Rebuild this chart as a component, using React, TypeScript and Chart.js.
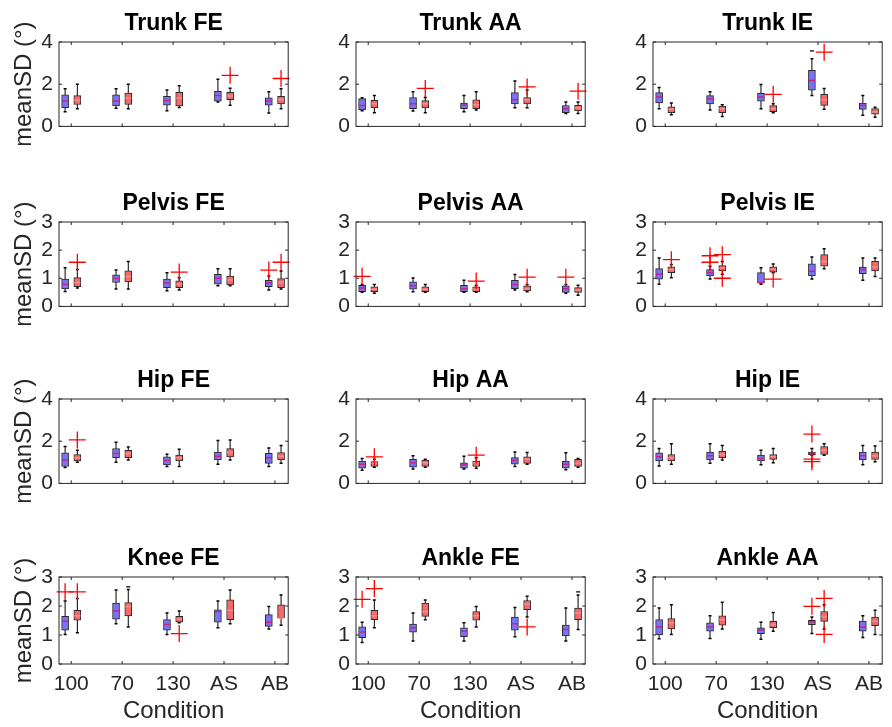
import React, { useEffect, useRef } from 'react';
import { Chart, registerables } from 'chart.js';
Chart.register(...registerables);

// Conditions (x categories)
const conditions = ['100', '70', '130', 'AS', 'AB'];

// Each stats row: [lower whisker, Q1, median, Q3, upper whisker], one per condition
// Outliers / marks: [conditionIndex, side (0 = blue, 1 = red), value]
const trunkFEBlue = [[0.69, 0.89, 1.2, 1.5, 1.78], [0.86, 0.97, 1.2, 1.5, 1.78], [0.74, 1.01, 1.23, 1.43, 1.73], [1.16, 1.2, 1.46, 1.66, 2.24], [0.63, 1.01, 1.2, 1.35, 1.64]];
const trunkFERed = [[0.84, 1.04, 1.24, 1.46, 2.0], [0.84, 1.04, 1.35, 1.58, 2.0], [0.89, 0.97, 1.35, 1.61, 1.93], [1.0, 1.27, 1.44, 1.61, 1.81], [0.84, 1.07, 1.27, 1.43, 1.78]];
const trunkFEOut = [[3, 1, 2.42], [4, 1, 2.27]];

const trunkAABlue = [[0.74, 0.78, 0.99, 1.32, 1.36], [0.73, 0.84, 1.07, 1.37, 1.64], [0.7, 0.84, 1.0, 1.11, 1.46], [0.88, 1.07, 1.26, 1.6, 2.15], [0.61, 0.65, 0.84, 0.99, 1.16]];
const trunkAARed = [[0.65, 0.88, 1.07, 1.23, 1.46], [0.65, 0.88, 1.07, 1.22, 1.37], [0.78, 0.84, 1.03, 1.26, 1.64], [0.88, 1.07, 1.26, 1.37, 1.72], [0.61, 0.73, 0.88, 1.0, 1.16]];
const trunkAAOut = [[1, 1, 1.8], [3, 1, 1.87], [4, 1, 1.67]];

const trunkIEBlue = [[0.84, 1.11, 1.39, 1.6, 1.84], [0.78, 1.07, 1.31, 1.46, 1.64], [0.84, 1.19, 1.39, 1.57, 1.98], [1.46, 1.72, 2.18, 2.66, 3.21], [0.53, 0.81, 0.99, 1.11, 1.46]];
const trunkIERed = [[0.55, 0.65, 0.81, 0.93, 1.11], [0.47, 0.65, 0.84, 0.96, 1.03], [0.65, 0.7, 0.84, 0.99, 1.07], [0.81, 1.0, 1.26, 1.52, 1.8], [0.43, 0.58, 0.68, 0.84, 0.91]];
const trunkIEOut = [[2, 1, 1.52], [3, 1, 3.52]];
const trunkIEMarks = [[3, 0, 3.58]];

const pelvisFEBlue = [[0.53, 0.62, 0.79, 0.97, 1.37], [0.62, 0.85, 0.99, 1.12, 1.29], [0.56, 0.67, 0.83, 0.97, 1.2], [0.73, 0.79, 1.0, 1.14, 1.34], [0.58, 0.7, 0.83, 0.93, 1.08]];
const pelvisFERed = [[0.65, 0.7, 0.85, 1.02, 1.31], [0.62, 0.87, 1.06, 1.26, 1.6], [0.58, 0.67, 0.79, 0.91, 1.02], [0.73, 0.76, 0.94, 1.08, 1.34], [0.62, 0.67, 0.85, 0.99, 1.26]];
const pelvisFEOut = [[0, 1, 1.57], [2, 1, 1.22], [4, 0, 1.29], [4, 1, 1.57]];

const pelvisAABlue = [[0.5, 0.52, 0.65, 0.75, 0.78], [0.52, 0.61, 0.73, 0.87, 1.01], [0.5, 0.52, 0.63, 0.75, 0.93], [0.58, 0.63, 0.78, 0.93, 1.13], [0.47, 0.5, 0.63, 0.73, 0.78]];
const pelvisAARed = [[0.47, 0.52, 0.61, 0.7, 0.78], [0.5, 0.52, 0.61, 0.7, 0.78], [0.5, 0.52, 0.61, 0.7, 0.75], [0.52, 0.55, 0.63, 0.73, 0.78], [0.4, 0.5, 0.58, 0.67, 0.75]];
const pelvisAAOut = [[0, 0, 1.07], [2, 1, 0.9], [3, 1, 1.04], [4, 0, 1.04]];

const pelvisIEBlue = [[0.79, 0.97, 1.14, 1.34, 1.72], [0.97, 1.08, 1.2, 1.31, 1.43], [0.79, 0.83, 0.85, 1.2, 1.37], [0.97, 1.08, 1.25, 1.51, 1.76], [0.93, 1.16, 1.31, 1.4, 1.72]];
const pelvisIERed = [[1.02, 1.2, 1.31, 1.41, 1.49], [1.14, 1.26, 1.37, 1.45, 1.6], [1.2, 1.22, 1.31, 1.41, 1.51], [1.34, 1.43, 1.6, 1.84, 2.05], [1.06, 1.26, 1.4, 1.6, 1.72]];
const pelvisIEOut = [[0, 1, 1.66], [1, 0, 1.8], [1, 0, 1.57], [1, 1, 1.84], [1, 1, 1.0], [2, 1, 0.97]];

const hipFEBlue = [[0.75, 0.8, 1.11, 1.45, 1.75], [1.0, 1.22, 1.42, 1.65, 1.95], [0.8, 0.88, 1.08, 1.26, 1.38], [0.91, 1.11, 1.29, 1.49, 2.03], [0.8, 0.95, 1.22, 1.42, 1.68]];
const hipFERed = [[1.0, 1.06, 1.22, 1.37, 1.57], [1.11, 1.22, 1.42, 1.57, 1.72], [0.8, 1.06, 1.22, 1.34, 1.62], [1.11, 1.26, 1.46, 1.65, 2.06], [0.95, 1.11, 1.29, 1.46, 1.8]];
const hipFEOut = [[0, 1, 2.06]];

const hipAABlue = [[0.62, 0.72, 0.91, 1.06, 1.18], [0.68, 0.77, 0.98, 1.14, 1.31], [0.68, 0.72, 0.88, 0.98, 1.29], [0.8, 0.91, 1.08, 1.22, 1.49], [0.65, 0.72, 0.91, 1.06, 1.45]];
const hipAARed = [[0.77, 0.8, 0.95, 1.03, 1.15], [0.77, 0.8, 0.98, 1.11, 1.14], [0.72, 0.8, 0.98, 1.06, 1.22], [0.91, 0.95, 1.15, 1.26, 1.46], [0.77, 0.8, 0.95, 1.14, 1.18]];
const hipAAOut = [[0, 1, 1.26], [2, 1, 1.34]];

const hipIEBlue = [[0.83, 1.06, 1.26, 1.45, 1.65], [0.95, 1.11, 1.31, 1.49, 1.88], [0.88, 1.06, 1.18, 1.34, 1.57], [1.34, 1.36, 1.42, 1.49, 1.65], [0.88, 1.11, 1.31, 1.49, 1.8]];
const hipIERed = [[0.91, 1.06, 1.22, 1.37, 1.88], [1.11, 1.22, 1.37, 1.52, 1.8], [0.98, 1.14, 1.26, 1.37, 1.65], [1.34, 1.37, 1.57, 1.75, 1.88], [1.03, 1.14, 1.31, 1.49, 1.77]];
const hipIEOut = [[3, 0, 2.34], [3, 0, 1.15], [3, 0, 1.03]];

const kneeFEBlue = [[1.02, 1.17, 1.47, 1.64, 2.17], [1.39, 1.55, 1.83, 2.1, 2.55], [1.02, 1.17, 1.36, 1.53, 1.76], [1.25, 1.44, 1.81, 1.87, 2.17], [1.21, 1.3, 1.44, 1.7, 1.98]];
const kneeFERed = [[1.08, 1.51, 1.66, 1.85, 2.26], [1.28, 1.66, 1.98, 2.12, 2.57], [1.42, 1.44, 1.55, 1.64, 1.83], [1.39, 1.53, 1.85, 2.21, 2.55], [1.34, 1.59, 1.59, 2.04, 2.38]];
const kneeFEOut = [[0, 0, 2.49], [0, 1, 2.49], [2, 1, 1.05]];
const kneeFEMarks = [[1, 1, 2.66]];

const ankleFEBlue = [[0.74, 0.91, 1.1, 1.28, 1.44], [0.79, 1.1, 1.25, 1.38, 1.76], [0.79, 0.94, 1.13, 1.25, 1.42], [0.94, 1.17, 1.39, 1.62, 1.95], [0.79, 0.97, 1.19, 1.34, 1.93]];
const ankleFERed = [[1.25, 1.53, 1.66, 1.85, 2.21], [1.53, 1.64, 1.81, 2.1, 2.21], [1.28, 1.51, 1.66, 1.81, 1.98], [1.62, 1.87, 2.06, 2.19, 2.34], [1.19, 1.53, 1.76, 1.93, 2.38]];
const ankleFEOut = [[0, 0, 2.23], [0, 1, 2.6], [3, 1, 1.28]];
const ankleFEMarks = [[4, 1, 2.49]];

const ankleAABlue = [[0.87, 1.0, 1.28, 1.53, 1.93], [0.88, 1.13, 1.28, 1.42, 1.66], [0.85, 1.05, 1.17, 1.25, 1.44], [1.05, 1.36, 1.45, 1.51, 1.62], [0.91, 1.13, 1.28, 1.48, 1.66]];
const ankleAARed = [[1.02, 1.21, 1.42, 1.57, 2.04], [1.21, 1.34, 1.53, 1.66, 2.13], [1.13, 1.25, 1.36, 1.47, 1.78], [1.21, 1.47, 1.64, 1.81, 2.04], [1.02, 1.32, 1.47, 1.62, 1.85]];
const ankleAAOut = [[3, 0, 1.99], [3, 1, 2.26], [3, 1, 1.02]];

const yTicks4 = [0, 2, 4];
const yTicks3 = [0, 1, 2, 3];

type Panel = { title: string; blue: number[][]; red: number[][]; out: number[][]; marks: number[][]; yTicks: number[] };

const panels: Panel[] = [
  { title: 'Trunk FE', blue: trunkFEBlue, red: trunkFERed, out: trunkFEOut, marks: [], yTicks: yTicks4 },
  { title: 'Trunk AA', blue: trunkAABlue, red: trunkAARed, out: trunkAAOut, marks: [], yTicks: yTicks4 },
  { title: 'Trunk IE', blue: trunkIEBlue, red: trunkIERed, out: trunkIEOut, marks: trunkIEMarks, yTicks: yTicks4 },
  { title: 'Pelvis FE', blue: pelvisFEBlue, red: pelvisFERed, out: pelvisFEOut, marks: [], yTicks: yTicks3 },
  { title: 'Pelvis AA', blue: pelvisAABlue, red: pelvisAARed, out: pelvisAAOut, marks: [], yTicks: yTicks3 },
  { title: 'Pelvis IE', blue: pelvisIEBlue, red: pelvisIERed, out: pelvisIEOut, marks: [], yTicks: yTicks3 },
  { title: 'Hip FE', blue: hipFEBlue, red: hipFERed, out: hipFEOut, marks: [], yTicks: yTicks4 },
  { title: 'Hip AA', blue: hipAABlue, red: hipAARed, out: hipAAOut, marks: [], yTicks: yTicks4 },
  { title: 'Hip IE', blue: hipIEBlue, red: hipIERed, out: hipIEOut, marks: [], yTicks: yTicks4 },
  { title: 'Knee FE', blue: kneeFEBlue, red: kneeFERed, out: kneeFEOut, marks: kneeFEMarks, yTicks: yTicks3 },
  { title: 'Ankle FE', blue: ankleFEBlue, red: ankleFERed, out: ankleFEOut, marks: ankleFEMarks, yTicks: yTicks3 },
  { title: 'Ankle AA', blue: ankleAABlue, red: ankleAARed, out: ankleAAOut, marks: [], yTicks: yTicks3 },
];

// Layout (pixels)
const COL_LEFT = [59, 356, 653];
const ROW_TOP = [42, 222, 399, 577];
const PLOT_W = 237;
const PLOT_H = 87;
const PAGE_H = 727;
const FONT = "'Liberation Sans', Arial, Helvetica, sans-serif";
const TEXT = '#262626';
const BLUE = '#7a72f4';
const RED = '#f46a6a';
const EDGE = '#2a2a2a';
const MED_BLUE = '#c8208c';
const MED_RED = '#ff8a8a';
const OFFSET = 0.12;

const framePlugin = {
  id: 'frame',
  afterDatasetsDraw(chart: any) {
    const { ctx, chartArea: a, scales } = chart;
    ctx.save();
    ctx.strokeStyle = TEXT;
    ctx.lineWidth = 1;
    ctx.strokeRect(a.left, a.top, a.right - a.left, a.bottom - a.top);
    const tl = 3;
    ctx.beginPath();
    scales.x.ticks.forEach((t: any) => {
      const px = scales.x.getPixelForValue(t.value);
      ctx.moveTo(px, a.bottom); ctx.lineTo(px, a.bottom - tl);
      ctx.moveTo(px, a.top); ctx.lineTo(px, a.top + tl);
    });
    scales.y.ticks.forEach((t: any) => {
      const py = scales.y.getPixelForValue(t.value);
      ctx.moveTo(a.left, py); ctx.lineTo(a.left + tl, py);
      ctx.moveTo(a.right, py); ctx.lineTo(a.right - tl, py);
    });
    ctx.stroke();
    ctx.restore();
  },
};

function BoxPanel({ panel, row, col }: { panel: Panel; row: number; col: number }) {
  const ref = useRef<HTMLCanvasElement>(null);
  const isBottom = row === 3;
  const isLeft = col === 0;
  const canvasLeft = isLeft ? 0 : COL_LEFT[col] - 50;
  const axisW = COL_LEFT[col] - canvasLeft;
  const width = axisW + PLOT_W + 2;
  const top = ROW_TOP[row] - 40;
  const bottomH = isBottom ? PAGE_H - (ROW_TOP[row] + PLOT_H) : 16;
  const height = 40 + PLOT_H + bottomH;

  useEffect(() => {
    const pos = (i: number, side: number) => i + 1 + (side === 0 ? -OFFSET : OFFSET);
    const groups = [panel.blue, panel.red];
    const whiskers: any[] = [];
    const caps: any[] = [];
    groups.forEach((arr, side) => arr.forEach((s, i) => {
      whiskers.push({ x: pos(i, side), y: s[0] }, { x: pos(i, side), y: s[4] }, { x: pos(i, side), y: null });
      caps.push({ x: pos(i, side), y: s[0] }, { x: pos(i, side), y: s[4] });
    }));
    const boxes = (arr: number[][], side: number) => arr.map((s, i) => ({ x: pos(i, side), y: [s[1], s[3]] }));
    const meds = (arr: number[][], side: number) => arr.map((s, i) => ({ x: pos(i, side), y: s[2] }));
    const outliers = panel.out.map((o) => ({ x: pos(o[0], o[1]), y: o[2] }));
    const marks = panel.marks.map((o) => ({ x: pos(o[0], o[1]), y: o[2] }));
    const yMax = panel.yTicks[panel.yTicks.length - 1];

    const chart = new Chart(ref.current as HTMLCanvasElement, {
      type: 'bar',
      data: {
        datasets: [
          { type: 'line', data: whiskers, borderColor: '#000', borderWidth: 1, pointRadius: 0, spanGaps: false, tension: 0, order: 5 } as any,
          { type: 'bar', data: boxes(panel.blue, 0), backgroundColor: BLUE, borderColor: EDGE, borderWidth: 1, borderSkipped: false, barThickness: 7, grouped: false, order: 4 } as any,
          { type: 'bar', data: boxes(panel.red, 1), backgroundColor: RED, borderColor: EDGE, borderWidth: 1, borderSkipped: false, barThickness: 7, grouped: false, order: 4 } as any,
          { type: 'scatter', data: caps, pointStyle: 'line', pointRadius: 1.5, pointBorderColor: '#000', pointBorderWidth: 1.5, order: 3 } as any,
          { type: 'scatter', data: meds(panel.blue, 0), pointStyle: 'line', pointRadius: 3, pointBorderColor: MED_BLUE, pointBorderWidth: 1.5, order: 2 } as any,
          { type: 'scatter', data: meds(panel.red, 1), pointStyle: 'line', pointRadius: 3, pointBorderColor: MED_RED, pointBorderWidth: 1.5, order: 2 } as any,
          { type: 'scatter', data: marks, pointStyle: 'line', pointRadius: 2, pointBorderColor: '#000', pointBorderWidth: 1.2, order: 2 } as any,
          { type: 'scatter', data: outliers, pointStyle: 'cross', pointRadius: 8.5, pointBorderColor: '#ff0000', pointBorderWidth: 1.3, clip: false, order: 1 } as any,
        ],
      },
      options: {
        animation: false,
        responsive: false,
        devicePixelRatio: 1,
        layout: { padding: { top: 7.4, left: 0, right: 2, bottom: 0 } },
        plugins: {
          legend: { display: false },
          tooltip: { enabled: false },
          title: {
            display: true,
            text: panel.title,
            fullSize: false,
            color: '#000',
            font: { family: FONT, size: 23, weight: 'bold' },
            padding: { top: 0, bottom: 5 },
          },
        },
        scales: {
          x: {
            type: 'linear',
            min: 0.76,
            max: 5.26,
            offset: false,
            grid: { display: false, drawTicks: false },
            border: { display: false },
            afterBuildTicks: (s: any) => { s.ticks = conditions.map((_, i) => ({ value: i + 1 })); },
            afterFit: (s: any) => { s.height = bottomH; },
            ticks: {
              display: isBottom,
              autoSkip: false,
              maxRotation: 0,
              padding: 7.4,
              color: TEXT,
              font: { family: FONT, size: 21 },
              callback: (v: any) => conditions[Math.round(Number(v)) - 1] ?? '',
            },
            title: {
              display: isBottom,
              text: 'Condition',
              color: TEXT,
              font: { family: FONT, size: 24 },
              padding: { top: 0, bottom: 1.6 },
            },
          } as any,
          y: {
            type: 'linear',
            min: 0,
            max: yMax,
            grid: { display: false, drawTicks: false },
            border: { display: false },
            afterBuildTicks: (s: any) => { s.ticks = panel.yTicks.map((v) => ({ value: v })); },
            afterFit: (s: any) => { s.width = axisW; },
            ticks: { autoSkip: false, padding: 6, color: TEXT, font: { family: FONT, size: 21 } },
            title: {
              display: isLeft,
              text: 'meanSD (°)',
              color: TEXT,
              font: { family: FONT, size: 24 },
              padding: { top: 9.6, bottom: 0 },
            },
          } as any,
        },
      },
      plugins: [framePlugin],
    });
    return () => chart.destroy();
  }, [panel]);

  return (
    <canvas
      ref={ref}
      width={width}
      height={height}
      style={{ position: 'absolute', left: canvasLeft, top, width, height, display: 'block' }}
    />
  );
}

export default function App() {
  return (
    <div style={{ position: 'absolute', left: 0, top: 0, width: 892, height: PAGE_H, background: '#fff', overflow: 'hidden' }}>
      {panels.map((p, k) => (
        <BoxPanel key={k} panel={p} row={Math.floor(k / 3)} col={k % 3} />
      ))}
    </div>
  );
}
